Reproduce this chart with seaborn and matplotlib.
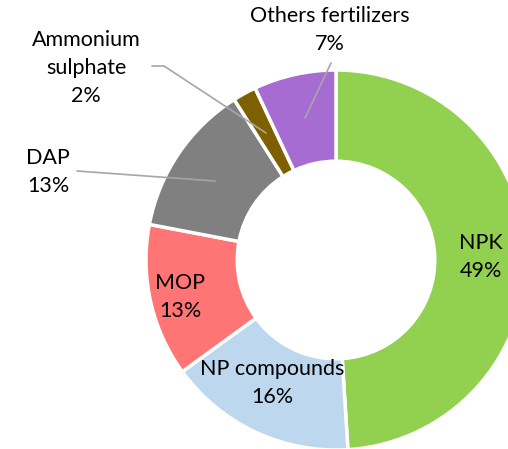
import matplotlib
matplotlib.use("Agg")
import matplotlib.pyplot as plt
import seaborn as sns

# data
labels = ["NPK", "NP compounds", "MOP", "DAP", "Ammonium\nsulphate", "Others fertilizers"]
shares = [49, 16, 13, 13, 2, 7]
colors = ["#92D050", "#BDD7EE", "#FF7575", "#808080", "#7F6000", "#A66CD2"]

sns.set_theme(style="white")
plt.rcParams["font.family"] = ["Lato", "DejaVu Sans"]

W, H = 508, 449
fig = plt.figure(figsize=(W / 100, H / 100), dpi=100)
ax = fig.add_axes([0, 0, 1, 1])

# donut, pixel-like coordinates (y up)
cx, cy, R = 336, H - 260, 190
ax.pie(shares, colors=colors, startangle=90, counterclock=False,
       center=(cx, cy), radius=R,
       wedgeprops=dict(width=R * 0.48, edgecolor="white", linewidth=2.5))

ax.set_xlim(0, W)
ax.set_ylim(0, H)
ax.set_aspect("equal")
ax.axis("off")

fs = 15.5
txt = dict(ha="center", va="center", fontsize=fs, color="black", linespacing=1.5)

# leader lines
lc = "#A6A6A6"
ax.plot([152, 164, 266], [H - 66, H - 66, H - 133], color=lc, lw=1.2)
ax.plot([77, 215], [H - 171, H - 181], color=lc, lw=1.2)
ax.plot([331, 305], [H - 63, H - 118], color=lc, lw=1.2)

# labels
ax.text(481, H - 257, f"{labels[0]}\n{shares[0]}%", **txt)
ax.text(272, H - 383, f"{labels[1]}\n{shares[1]}%", **txt)
ax.text(180, H - 297, f"{labels[2]}\n{shares[2]}%", **txt)
ax.text(48, H - 172, f"{labels[3]}\n{shares[3]}%", **txt)
ax.text(86, H - 68, f"{labels[4]}\n{shares[4]}%", **txt)
ax.text(330, H - 30, f"{labels[5]}\n{shares[5]}%", **txt)

fig.savefig("out.png", dpi=100)
